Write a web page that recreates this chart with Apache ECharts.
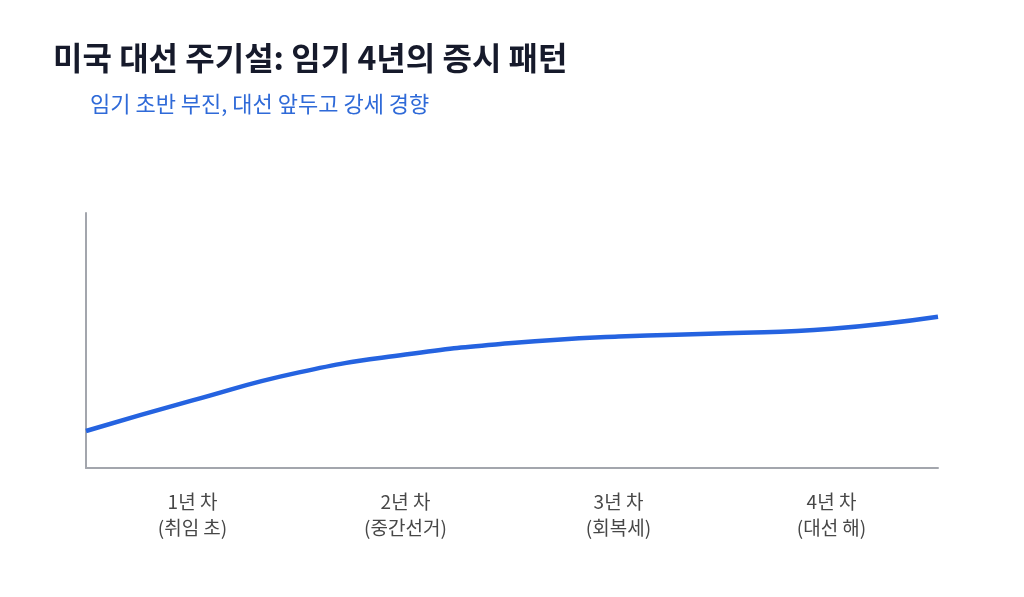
<!DOCTYPE html>
<html>
<head>
<meta charset="utf-8">
<script src="https://cdn.jsdelivr.net/npm/echarts@6/dist/echarts.min.js"></script>
<style>
  html, body { margin: 0; padding: 0; background: #fff; }
  #main { width: 1024px; height: 597px; }
</style>
</head>
<body>
<div id="main"></div>
<script>
// 임기 연차 (축 라벨)
var years = ['1년 차\n(취임 초)', '2년 차\n(중간선거)', '3년 차\n(회복세)', '4년 차\n(대선 해)'];
// 곡선 위치 (임기 경과, 0~4년)
var phase = [0, 0.5, 1, 1.5, 2, 2.5, 3, 3.5, 4];
// 상대 지수 수준
var level = [14.5, 26.5, 37.5, 44.5, 49, 51.6, 52.8, 54.6, 59.3];

var chartDom = document.getElementById('main');
var myChart = echarts.init(chartDom);
var option;

var font = '"Noto Sans CJK KR", "Noto Sans", sans-serif';

option = {
  backgroundColor: '#ffffff',
  title: [
    {
      text: '미국 대선 주기설: 임기 4년의 증시 패턴',
      left: 48,
      top: 37,
      textStyle: { fontFamily: font, fontSize: 32, fontWeight: 'bold', color: '#161a2b' }
    },
    {
      text: '임기 초반 부진, 대선 앞두고 강세 경향',
      left: 85,
      top: 88,
      textStyle: { fontFamily: font, fontSize: 22, fontWeight: 'normal', color: '#2f6ad8' }
    }
  ],
  grid: { left: 86, right: 86, top: 213, bottom: 129 },
  xAxis: [
    {
      type: 'category',
      data: years,
      boundaryGap: true,
      axisLine: { lineStyle: { color: '#a3a6ad', width: 2 } },
      axisTick: { show: false },
      axisLabel: { fontFamily: font, fontSize: 19, color: '#474747', lineHeight: 26, margin: 21 }
    },
    {
      type: 'value',
      min: 0,
      max: 4,
      show: false
    }
  ],
  yAxis: {
    type: 'value',
    min: 0,
    max: 100,
    axisLine: { show: true, lineStyle: { color: '#a3a6ad', width: 2 } },
    axisTick: { show: false },
    axisLabel: { show: false },
    splitLine: { show: false }
  },
  series: [
    {
      type: 'line',
      xAxisIndex: 1,
      data: phase.map(function (p, i) { return [p, level[i]]; }),
      smooth: true,
      symbol: 'none',
      lineStyle: { color: '#2563e0', width: 4.5 },
      silent: true
    }
  ]
};

option && myChart.setOption(option);
</script>
</body>
</html>
